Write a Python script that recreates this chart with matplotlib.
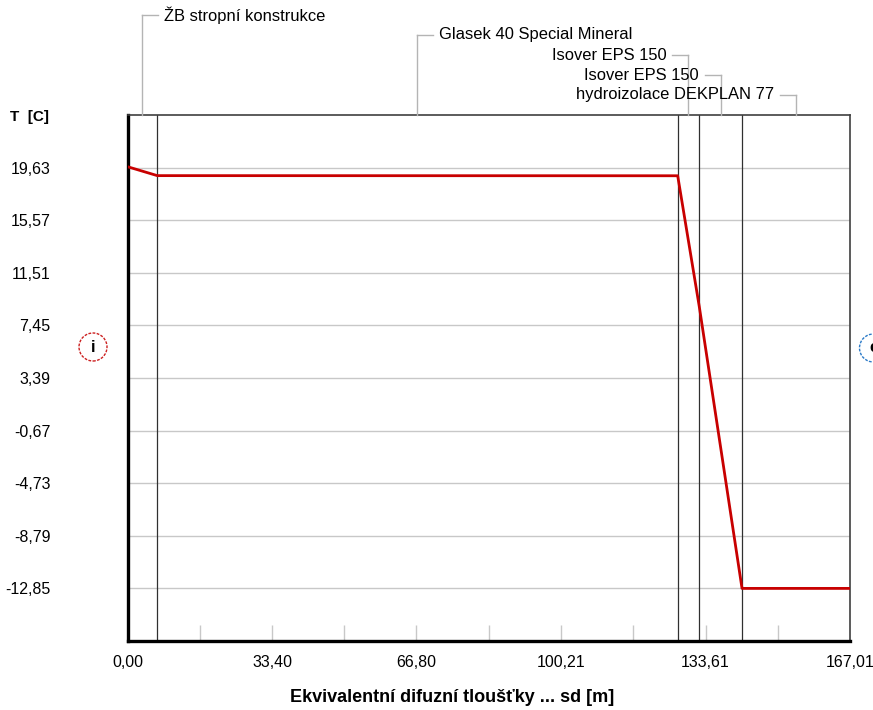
"""
Temperature profile across a roof assembly plotted against the
equivalent diffusion thickness (sd) of its layers.
"""

import matplotlib

matplotlib.use("Agg")
import matplotlib.pyplot as plt
import matplotlib.transforms as mtransforms
from matplotlib.patches import Circle

plt.rcParams.update(
    {
        "font.family": ["Liberation Sans", "DejaVu Sans"],
        "font.size": 11,
        "figure.dpi": 100,
        "savefig.dpi": 100,
    }
)

# layer boundaries in sd [m]
layer_bounds = [0.0, 6.89, 127.18, 132.17, 142.05, 167.01]
layer_names = [
    "ŽB stropní konstrukce",
    "Glasek 40 Special Mineral",
    "Isover EPS 150",
    "Isover EPS 150",
    "hydroizolace DEKPLAN 77",
]

# temperature profile
profile_sd = [0.0, 6.89, 127.18, 132.17, 142.05, 167.01]
profile_t = [19.70, 19.01, 19.00, 8.90, -12.85, -12.85]

y_ticks = [19.63, 15.57, 11.51, 7.45, 3.39, -0.67, -4.73, -8.79, -12.85]
y_labels = ["19,63", "15,57", "11,51", "7,45", "3,39", "-0,67", "-4,73", "-8,79", "-12,85"]
x_ticks = [0.0, 33.40, 66.80, 100.21, 133.61, 167.01]
x_labels = ["0,00", "33,40", "66,80", "100,21", "133,61", "167,01"]
x_minor = [16.70, 33.40, 50.10, 66.80, 83.51, 100.21, 116.91, 133.61, 150.31]

W, H = 873, 710
fig = plt.figure(figsize=(W / 100, H / 100))
ax = fig.add_axes([127.5 / W, 1 - 641 / H, 722.5 / W, 526 / H])
ax.set_xlim(0, 167.01)
ax.set_ylim(-16.91, 23.69)

for y in y_ticks:
    ax.axhline(y, color="#c8c8c8", linewidth=1.0, zorder=1)

ax.vlines(x_minor, 0, 16 / 526, transform=ax.get_xaxis_transform(),
          color="#c8c8c8", linewidth=1.0, zorder=1)

for x in layer_bounds[1:-1]:
    ax.axvline(x, color="#303030", linewidth=0.9, zorder=2)

ax.plot(profile_sd, profile_t, color="#c80000", linewidth=2.0, zorder=3)

ax.set_yticks(y_ticks)
ax.set_yticklabels(y_labels, fontsize=11.5)
ax.set_xticks(x_ticks)
ax.set_xticklabels(x_labels, fontsize=11.5)
ax.tick_params(axis="y", length=0, pad=55.5)
ax.tick_params(axis="x", length=0, pad=10)

for side in ("left", "bottom"):
    ax.spines[side].set_linewidth(2.4)
    ax.spines[side].set_color("black")
for side in ("top", "right"):
    ax.spines[side].set_linewidth(1.2)
    ax.spines[side].set_color("#404040")

fig.text(10 / W, 1 - 117 / H, "T  [C]", fontsize=11, fontweight="bold",
         ha="left", va="center")
fig.text(452 / W, 1 - 697 / H, "Ekvivalentní difuzní tloušťky ... sd [m]",
         fontsize=13, fontweight="bold", ha="center", va="center")


# layer labels with leader lines (pixels measured from top of figure)
def px_x(x_data):
    return ax.transData.transform((x_data, 0))[0]


label_rows = [15, 35, 55, 75, 95]
label_side = [1, 1, -1, -1, -1]
line_tf = mtransforms.IdentityTransform()
for i, name in enumerate(layer_names):
    mid = px_x((layer_bounds[i] + layer_bounds[i + 1]) / 2)
    y_top = H - label_rows[i]
    y_ax = H - 115
    s = label_side[i]
    fig.add_artist(plt.Line2D([mid, mid, mid + s * 16], [y_top - 0, y_top, y_top],
                              transform=line_tf, color="#b4b4b4", linewidth=1.0))
    fig.add_artist(plt.Line2D([mid, mid], [y_ax, y_top],
                              transform=line_tf, color="#b4b4b4", linewidth=1.0))
    fig.text((mid + s * 22) / W, y_top / H, name, fontsize=11.9,
             ha="left" if s > 0 else "right", va="center")

# interior / exterior markers
for cx, cy, letter, col in [(93, 347, "i", "#cc2020"), (873.5, 348, "e", "#2a7ac8")]:
    fig.add_artist(Circle((cx, H - cy), 14, transform=line_tf, fill=False,
                          edgecolor=col, linewidth=1.0, linestyle=(0, (2, 1))))
    fig.text(cx / W, (H - cy) / H, letter, fontsize=12, fontweight="bold",
             ha="center", va="center")

fig.savefig("out.png")
